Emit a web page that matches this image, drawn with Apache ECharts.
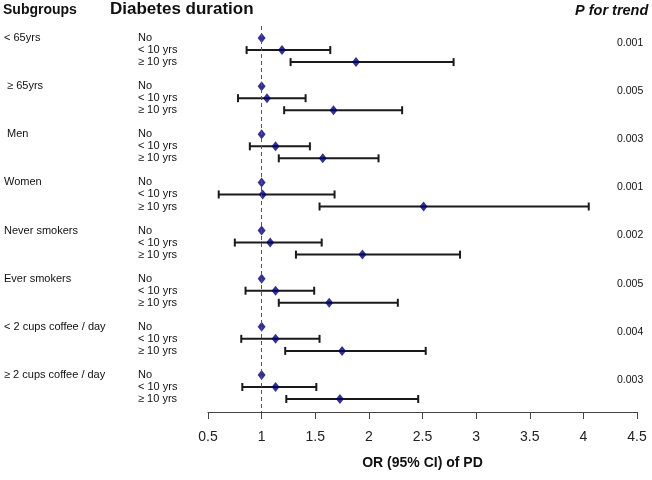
<!DOCTYPE html>
<html>
<head>
<meta charset="utf-8">
<script src="https://cdn.jsdelivr.net/npm/echarts@6/dist/echarts.min.js"></script>
<style>html,body{margin:0;padding:0;background:#fff}#c{width:652px;height:480px}</style>
</head>
<body>
<div id="c"></div>
<script>
const subgroups = ["< 65yrs", " \u2265 65yrs", " Men", "Women", "Never smokers", "Ever smokers", "< 2 cups coffee / day", "\u2265 2 cups coffee / day"];
const durations = ["No", "< 10 yrs", "\u2265 10 yrs"];
const orNo = [1, 1, 1, 1, 1, 1, 1, 1];
const orLt10 = [1.19, 1.05, 1.13, 1.01, 1.08, 1.13, 1.13, 1.13];
const loLt10 = [0.86, 0.78, 0.89, 0.60, 0.75, 0.85, 0.81, 0.82];
const hiLt10 = [1.64, 1.41, 1.45, 1.68, 1.56, 1.49, 1.54, 1.51];
const orGe10 = [1.88, 1.67, 1.57, 2.51, 1.94, 1.63, 1.75, 1.73];
const loGe10 = [1.27, 1.21, 1.16, 1.54, 1.32, 1.16, 1.22, 1.23];
const hiGe10 = [2.79, 2.31, 2.09, 4.05, 2.85, 2.27, 2.53, 2.46];
const pTrend = ["0.001", "0.005", "0.003", "0.001", "0.002", "0.005", "0.004", "0.003"];
const xMin = 0.5, xMax = 4.5, xStep = 0.5;

const FONT = '"Liberation Sans", Arial, sans-serif';
const rowIdx = (g, r) => g * 4 + r;

const points = [];
const bars = [];
subgroups.forEach((s, g) => {
  points.push([orNo[g], rowIdx(g, 0)]);
  points.push([orLt10[g], rowIdx(g, 1)]);
  points.push([orGe10[g], rowIdx(g, 2)]);
  bars.push([loLt10[g], hiLt10[g], rowIdx(g, 1)]);
  bars.push([loGe10[g], hiGe10[g], rowIdx(g, 2)]);
});

const chart = echarts.init(document.getElementById('c'), null, {renderer: 'canvas'});
chart.setOption({
  animation: false,
  backgroundColor: '#fff',
  grid: {left: 208, right: 15, top: 26, bottom: 68, containLabel: false},
  xAxis: {
    type: 'value', min: xMin, max: xMax, interval: xStep, position: 'bottom',
    splitLine: {show: false},
    axisLine: {show: true, onZero: false, lineStyle: {color: '#444', width: 1}},
    axisTick: {show: true, length: 7, lineStyle: {color: '#444'}},
    axisLabel: {fontFamily: FONT, fontSize: 14, color: '#222', margin: 18,
      formatter: v => String(v)},
    name: 'OR (95% CI) of PD', nameLocation: 'middle', nameGap: 44,
    nameTextStyle: {fontFamily: FONT, fontSize: 14, fontWeight: 'bold', color: '#111'}
  },
  yAxis: {
    type: 'value', min: -1, max: 31.08, inverse: true, show: false
  },
  series: [
    {
      type: 'custom',
      data: bars,
      renderItem: (params, api) => {
        const a = api.coord([api.value(0), api.value(2)]);
        const b = api.coord([api.value(1), api.value(2)]);
        const h = 4;
        const st = {stroke: '#1a1a1a', lineWidth: 2};
        return {type: 'group', children: [
          {type: 'line', shape: {x1: a[0], y1: a[1], x2: b[0], y2: b[1]}, style: st},
          {type: 'line', shape: {x1: a[0], y1: a[1] - h, x2: a[0], y2: a[1] + h}, style: st},
          {type: 'line', shape: {x1: b[0], y1: b[1] - h, x2: b[0], y2: b[1] + h}, style: st}
        ]};
      },
      z: 2
    },
    {
      type: 'scatter',
      data: points,
      symbol: 'diamond',
      symbolSize: [8, 10],
      itemStyle: {color: '#000070'},
      z: 3,
      markLine: {
        silent: true, symbol: 'none', label: {show: false},
        lineStyle: {type: [4, 3], color: '#555', width: 1},
        data: [{xAxis: 1}]
      }
    }
  ]
});

const gfx = [];
gfx.push({type: 'text', left: 3, top: 3, style: {text: 'Subgroups', font: 'bold 14px ' + FONT, fill: '#111'}});
gfx.push({type: 'text', left: 110, top: 1, style: {text: 'Diabetes duration', font: 'bold 17px ' + FONT, fill: '#111'}});
gfx.push({type: 'text', left: 575, top: 3, style: {text: 'P for trend', font: 'bold italic 14.5px ' + FONT, fill: '#111'}});
subgroups.forEach((s, g) => {
  const y0 = chart.convertToPixel({gridIndex: 0}, [1, rowIdx(g, 0)])[1];
  gfx.push({type: 'text', x: 4, y: y0, style: {text: s, font: '11px ' + FONT, fill: '#111', textVerticalAlign: 'middle'}});
  durations.forEach((d, r) => {
    const y = chart.convertToPixel({gridIndex: 0}, [1, rowIdx(g, r)])[1];
    gfx.push({type: 'text', x: 138, y: y, style: {text: d, font: '11px ' + FONT, fill: '#111', textVerticalAlign: 'middle'}});
  });
  gfx.push({type: 'text', x: 617, y: y0 + 5, style: {text: pTrend[g], font: '10.5px ' + FONT, fill: '#111', textVerticalAlign: 'middle'}});
});
chart.setOption({graphic: gfx});
</script>
</body>
</html>
